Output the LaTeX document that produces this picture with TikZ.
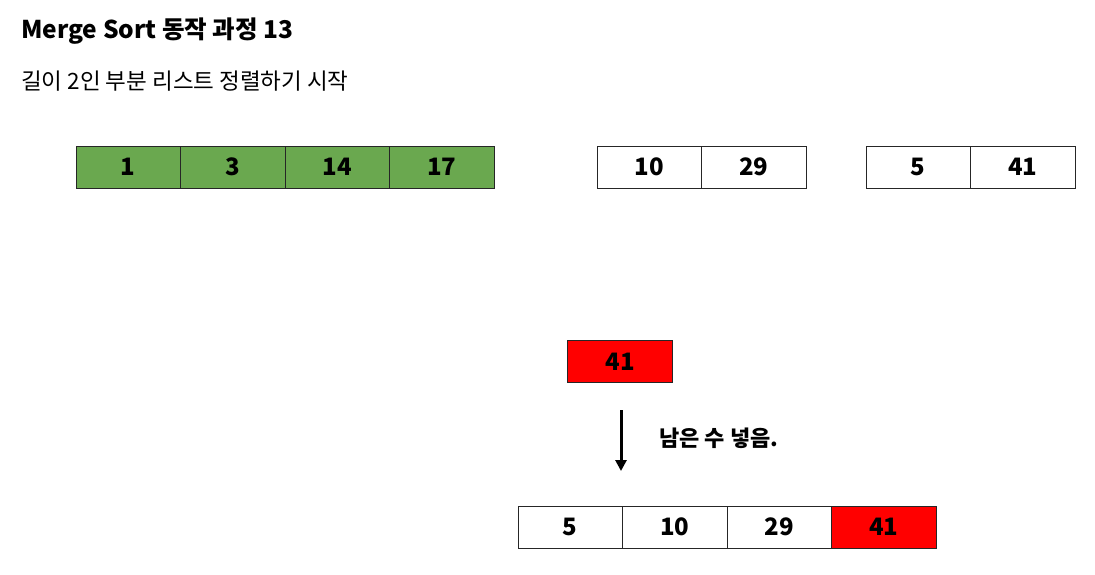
\documentclass[tikz,border=0pt]{standalone}
\usepackage{fontspec}
\setmainfont{Noto Sans CJK KR}
\usepackage{tikz}
\usetikzlibrary{arrows.meta}
\definecolor{cellgreen}{RGB}{106,168,79}
\definecolor{cellred}{RGB}{255,0,0}

\begin{document}
\begin{tikzpicture}[x=1pt,y=-1pt,
	cell/.style={draw=black!85,line width=1pt,minimum width=104.5pt,minimum height=42pt,inner sep=0pt,font=\fontsize{24}{28}\selectfont\bfseries},
	done/.style={cell,fill=cellgreen},
	hit/.style={cell,fill=cellred}]
	\useasboundingbox (0,0) rectangle (1095,574);
	\node[anchor=base west,inner sep=0pt,font=\fontsize{24.5}{28}\selectfont\bfseries] (title) at (21,38) {Merge Sort 동작 과정 13};
	\node[anchor=base west,inner sep=0pt,font=\fontsize{22.5}{26}\selectfont] (sub) at (21,89) {길이 2인 부분 리스트 정렬하기 시작};
	\node[done] (a1) at (128.25,167) {1};
	\node[done] (a2) at (232.75,167) {3};
	\node[done] (a3) at (337.25,167) {14};
	\node[done] (a4) at (441.75,167) {17};
	\node[cell] (b1) at (649.25,167) {10};
	\node[cell] (b2) at (753.75,167) {29};
	\node[cell] (c1) at (918.25,167) {5};
	\node[cell] (c2) at (1022.75,167) {41};
	\node[hit] (pick) at (620,361.5) {41};
	\coordinate (s) at (621,410);
	\coordinate (t) at (621,471);
	\draw[line width=3pt,-{Triangle[length=11pt,width=11pt]}] (s) -- (t);
	\node[anchor=base west,inner sep=0pt,font=\fontsize{22}{26}\selectfont\bfseries] (msg) at (659,446) {남은 수 넣음.};
	\node[cell] (d1) at (570.25,527) {5};
	\node[cell] (d2) at (674.75,527) {10};
	\node[cell] (d3) at (779.25,527) {29};
	\node[hit] (d4) at (883.75,527) {41};
  \end{tikzpicture}
\end{document}
